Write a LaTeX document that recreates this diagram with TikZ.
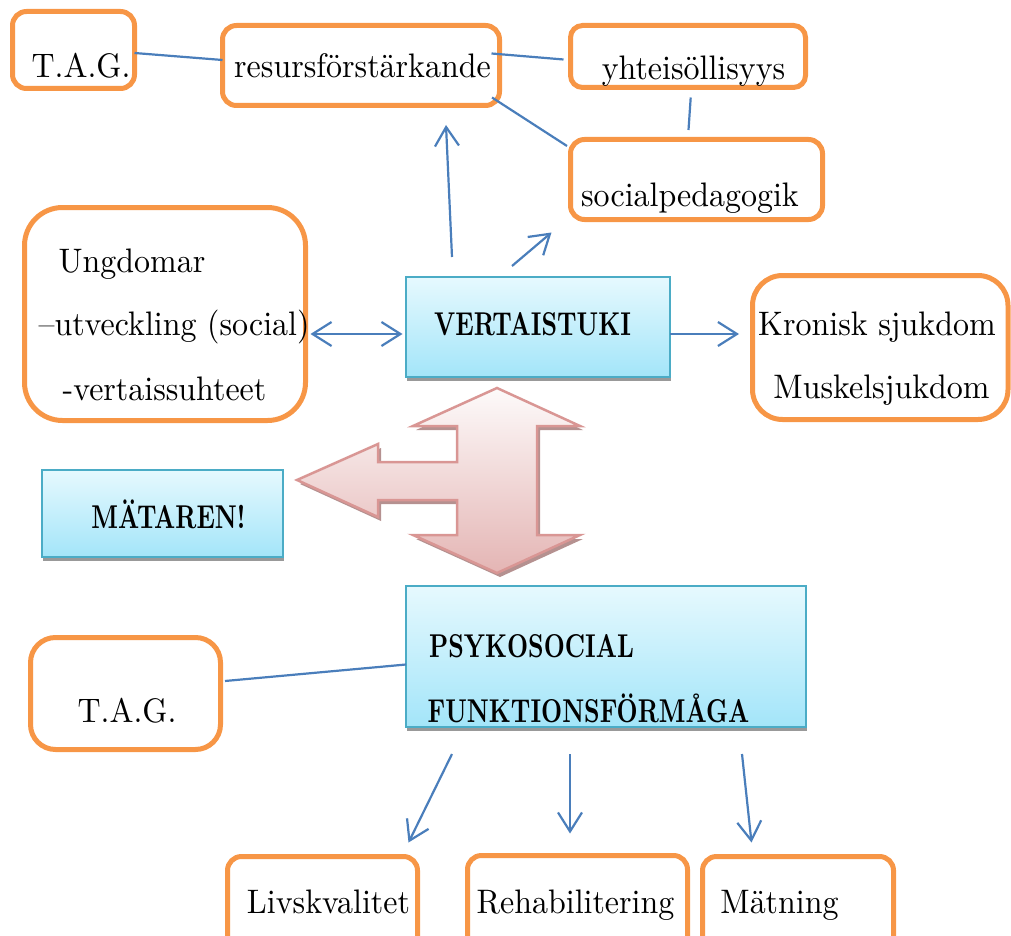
\documentclass[tikz,border=0pt]{standalone}
\usepackage{fontspec}
\setmainfont{lmroman10-regular.otf}[FakeStretch=0.94, BoldFont=lmroman10-bold.otf, ItalicFont=lmroman10-italic.otf]
\newfontfamily\capsbold{lmroman10-bold.otf}[FakeStretch=0.74]
\usetikzlibrary{arrows.meta,calc,shadows}

\definecolor{boxorange}{HTML}{F79646}
\definecolor{linkblue}{HTML}{4A7EBB}
\definecolor{aquaedge}{HTML}{4BACC6}
\definecolor{aquatop}{HTML}{E6F9FE}
\definecolor{aquabottom}{HTML}{A3E5F9}
\definecolor{rosetop}{HTML}{FDFAFA}
\definecolor{rosebottom}{HTML}{E4B5B4}
\definecolor{roseedge}{HTML}{D99694}
\definecolor{roseshadow}{HTML}{B59190}

\begin{document}
\begin{tikzpicture}[x=1pt,y=-1pt,
  obox/.style={draw=boxorange, line width=5pt, fill=white, rectangle,
    rounded corners=#1, outer sep=0pt, inner sep=0pt},
  obox/.default=14pt,
  abox/.style={draw=aquaedge, line width=2pt, top color=aquatop,
    bottom color=aquabottom, outer sep=0pt, inner sep=0pt,
    drop shadow={shadow xshift=1pt, shadow yshift=-4pt, fill=black!40, opacity=1}},
  txt/.style={anchor=base, inner sep=0pt, font=\fontsize{34}{40}\selectfont},
  btxt/.style={anchor=base, inner sep=0pt, font=\fontsize{33}{40}\capsbold},
  link/.style={draw=linkblue, line width=2.2pt},
  arr/.style={link, -{Straight Barb[length=19pt,width=24pt]}},
  dbl/.style={link, {Straight Barb[length=19pt,width=24pt]}-{Straight Barb[length=19pt,width=24pt]}},
  ]
\useasboundingbox (0,0) rectangle (1011,936);
\clip (0,0) rectangle (1011,936);

% ---- orange rounded boxes ----
\node[obox, minimum width=122pt, minimum height=77pt] (tag1) at (73.5,50) {};
\node[obox, minimum width=277pt, minimum height=80pt] (resurs) at (361,65.5) {};
\node[obox=12pt, minimum width=235pt, minimum height=62pt] (yhteis) at (688,56.5) {};
\node[obox, minimum width=252pt, minimum height=80pt] (socped) at (696.5,179.5) {};
\node[obox=38pt, minimum width=281pt, minimum height=213pt] (ungd) at (165,314) {};
\node[obox=30pt, minimum width=255.5pt, minimum height=144pt] (kron) at (880.25,347.5) {};
\node[obox=25pt, minimum width=190pt, minimum height=112pt] (tag2) at (125.5,693.5) {};
\node[obox, minimum width=190pt, minimum height=94pt] (liv) at (322.5,903.5) {};
\node[obox, minimum width=220pt, minimum height=95pt] (rehab) at (577.5,903) {};
\node[obox, minimum width=191pt, minimum height=94pt] (matn) at (798,903.5) {};

% ---- aqua boxes ----
\node[abox, minimum width=264pt, minimum height=100pt] (vert) at (538,327) {};
\node[abox, minimum width=241pt, minimum height=87pt] (matar) at (162.5,513.5) {};
\node[abox, minimum width=400pt, minimum height=141pt] (psyk) at (606,656.5) {};

% ---- three-way block arrow ----
\fill[roseshadow, shift={(3,4)}]
  (497,388) -- (580,426) -- (537,426) -- (537,535) -- (580,535) -- (497,573)
  -- (413,535) -- (457,535) -- (457,500) -- (378,500) -- (378,517) -- (297,480)
  -- (378,444) -- (378,462) -- (457,462) -- (457,426) -- (413,426) -- cycle;
\path[draw=roseedge, line width=2.5pt, top color=rosetop, bottom color=rosebottom]
  (497,388) -- (580,426) -- (537,426) -- (537,535) -- (580,535) -- (497,573)
  -- (413,535) -- (457,535) -- (457,500) -- (378,500) -- (378,517) -- (297,480)
  -- (378,444) -- (378,462) -- (457,462) -- (457,426) -- (413,426) -- cycle;

% ---- texts ----
\node[txt] (tag1-t) at (81,78) {T.A.G.};
\node[txt] (resurs-t) at (362.5,78) {resursförstärkande};
\node[txt] (yhteis-t) at (693.5,80) {yhteisöllisyys};
\node[txt] (socped-t) at (690,206) {socialpedagogik};
\node[txt] (ungd-t1) at (132,272) {Ungdomar};
\node[txt] (ungd-t2) at (174,335) {–utveckling (social)};
\node[txt] (ungd-t3) at (164.5,400) {-vertaissuhteet};
\node[txt] (kron-t1) at (877,335) {Kronisk sjukdom};
\node[txt] (kron-t2) at (881.5,398) {Muskelsjukdom};
\node[txt] (tag2-t) at (127,722) {T.A.G.};
\node[txt] (liv-t) at (328.5,913) {Livskvalitet};
\node[txt] (rehab-t) at (575.5,913) {Rehabilitering};
\node[txt] (matn-t) at (779.5,913) {Mätning};
\node[btxt] (vert-t) at (532.5,335) {VERTAISTUKI};
\node[btxt] (matar-t) at (168.5,528) {MÄTAREN!};
\node[btxt] (psyk-t1) at (531.5,657) {PSYKOSOCIAL};
\node[btxt] (psyk-t2) at (588.5,722) {FUNKTIONSFÖRMÅGA};

% ---- plain links ----
\draw[link] ($(tag1.east)+(0,3)$) -- ($(resurs.west)+(0,-5.5)$);
\draw[link] ($(resurs.east)+(-8,-12)$) -- ($(yhteis.west)+(-7,3)$);
\draw[link] ($(resurs.south east)+(-7.5,-8)$) -- ($(socped.north west)+(-3.5,6.5)$);
\draw[link] ($(yhteis.south)+(2.7,10)$) -- ($(socped.north)+(-8,-9.5)$);
\draw[link] ($(tag2.east)+(4.5,-12.5)$) -- ($(psyk.west)+(0,8)$);

% ---- arrows ----
\draw[arr] ($(vert.north west)+(46,-20)$) -- ($(resurs.south)+(85,19.5)$);
\draw[arr] ($(vert.north west)+(106,-11)$) -- ($(socped.south west)+(-19,13)$);
\draw[dbl] ($(ungd.east)+(5,20)$) -- ($(vert.west)+(-3.5,7)$);
\draw[arr] ($(vert.east)+(0,7)$) -- ($(kron.west)+(-13.5,-13.5)$);
\draw[arr] ($(psyk.south west)+(46,27)$) -- ($(liv.north)+(86,-14)$);
\draw[arr] ($(psyk.south)+(-36,27)$) -- ($(rehab.north)+(-7.5,-22)$);
\draw[arr] ($(psyk.south east)+(-64,27)$) -- ($(matn.north)+(-46.5,-14)$);
\end{tikzpicture}
\end{document}
